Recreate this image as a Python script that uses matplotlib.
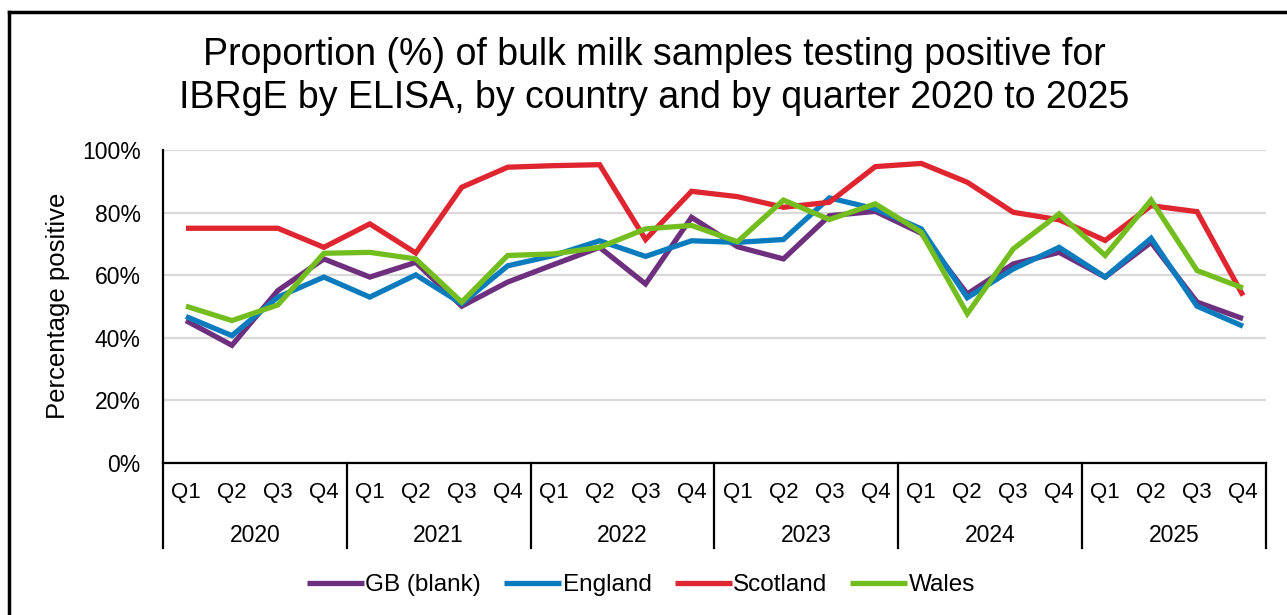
import matplotlib
matplotlib.use("Agg")
import matplotlib.pyplot as plt
from matplotlib.lines import Line2D
from matplotlib.ticker import FuncFormatter
import matplotlib.transforms as mtransforms

plt.rcParams['font.family'] = ['Liberation Sans', 'DejaVu Sans']

years = ['2020', '2021', '2022', '2023', '2024', '2025']
quarters = ['Q1', 'Q2', 'Q3', 'Q4']
gb = [45.5, 37.6, 55.1, 65.2, 59.4, 64.1, 50.1, 57.8, 63.4, 68.9, 57.2, 78.5,
      69.1, 65.2, 79.0, 80.4, 73.4, 54.0, 63.6, 67.3, 59.4, 70.5, 51.4, 46.1]
england = [46.8, 40.7, 53.0, 59.4, 53.0, 60.1, 50.9, 63.0, 66.3, 71.0, 66.0, 71.0,
           70.5, 71.4, 84.7, 81.2, 74.8, 52.8, 62.0, 68.9, 59.4, 71.8, 50.1, 43.7]
scotland = [75.0, 75.0, 75.0, 68.9, 76.4, 67.1, 88.1, 94.5, 95.0, 95.3, 71.4, 86.8,
            85.1, 81.7, 83.3, 94.7, 95.7, 89.7, 80.1, 77.7, 71.1, 82.2, 80.3, 53.5]
wales = [50.1, 45.5, 50.5, 67.0, 67.3, 65.2, 51.4, 66.3, 66.8, 68.9, 74.8, 75.9,
         70.7, 84.0, 77.8, 82.8, 73.7, 47.7, 68.4, 79.6, 66.3, 84.0, 61.5, 55.9]
series_names = ['GB (blank)', 'England', 'Scotland', 'Wales']
colors = ['#6E2F7E', '#0A7CBE', '#DF2630', '#73BE1E']

W, H = 1287, 615
fig = plt.figure(figsize=(W / 100, H / 100), dpi=100)
ax = fig.add_axes([163 / W, 1 - 463 / H, (1266 - 163) / W, (463 - 150) / H])

x = list(range(len(years) * len(quarters)))
for name, vals, c in zip(series_names, [gb, england, scotland, wales], colors):
    ax.plot(x, vals, color=c, lw=3.8, label=name, solid_joinstyle='miter',
            solid_capstyle='butt', zorder=3)

ax.set_xlim(-0.5, len(x) - 0.5)
ax.set_ylim(0, 100)
ax.set_yticks(range(0, 101, 20))
ax.yaxis.set_major_formatter(FuncFormatter(lambda v, p: f"{int(v)}%"))
ax.grid(axis='y', color='#d9d9d9', lw=1.6, zorder=0)
ax.set_axisbelow(True)
for s in ['top', 'right']:
    ax.spines[s].set_visible(False)
for s in ['left', 'bottom']:
    ax.spines[s].set_color('black')
    ax.spines[s].set_linewidth(1.6)
ax.tick_params(axis='y', length=0, pad=16, labelsize=16.5)
ax.set_xticks(x)
ax.set_xticklabels(quarters * len(years))
ax.tick_params(axis='x', length=0, pad=14, labelsize=16)

trans = mtransforms.blended_transform_factory(ax.transData, ax.transAxes)
for k in range(len(years) + 1):
    xb = k * 4 - 0.5
    ax.add_line(Line2D([xb, xb], [0, -0.272], transform=trans, color='black',
                       lw=1.6, clip_on=False))
for k, yr in enumerate(years):
    ax.text(k * 4 + 1.5, -0.233, yr, transform=trans, ha='center', va='center',
            fontsize=16.5)

fig.text(58 / W, 1 - 306 / H, 'Percentage positive', rotation=90,
         ha='center', va='center', fontsize=18.5)

fig.text(654 / W, 1 - 65 / H, 'Proportion (%) of bulk milk samples testing positive for',
         ha='center', va='baseline', fontsize=27)
fig.text(654 / W, 1 - 108 / H, 'IBRgE by ELISA, by country and by quarter 2020 to 2025',
         ha='center', va='baseline', fontsize=27)

fig.legend(loc='center', bbox_to_anchor=(641 / W, 1 - 585 / H), ncol=4,
           frameon=False, fontsize=17.5, handlelength=2.35, handletextpad=0.05,
           columnspacing=0.95)

fig.add_artist(Line2D([9 / W, 1.0], [1 - 12 / H, 1 - 12 / H],
                      transform=fig.transFigure, color='black', lw=2.5))
fig.add_artist(Line2D([9 / W, 9 / W], [0, 1 - 12 / H],
                      transform=fig.transFigure, color='black', lw=2.5))

fig.savefig('out.png', dpi=100, facecolor='white')
